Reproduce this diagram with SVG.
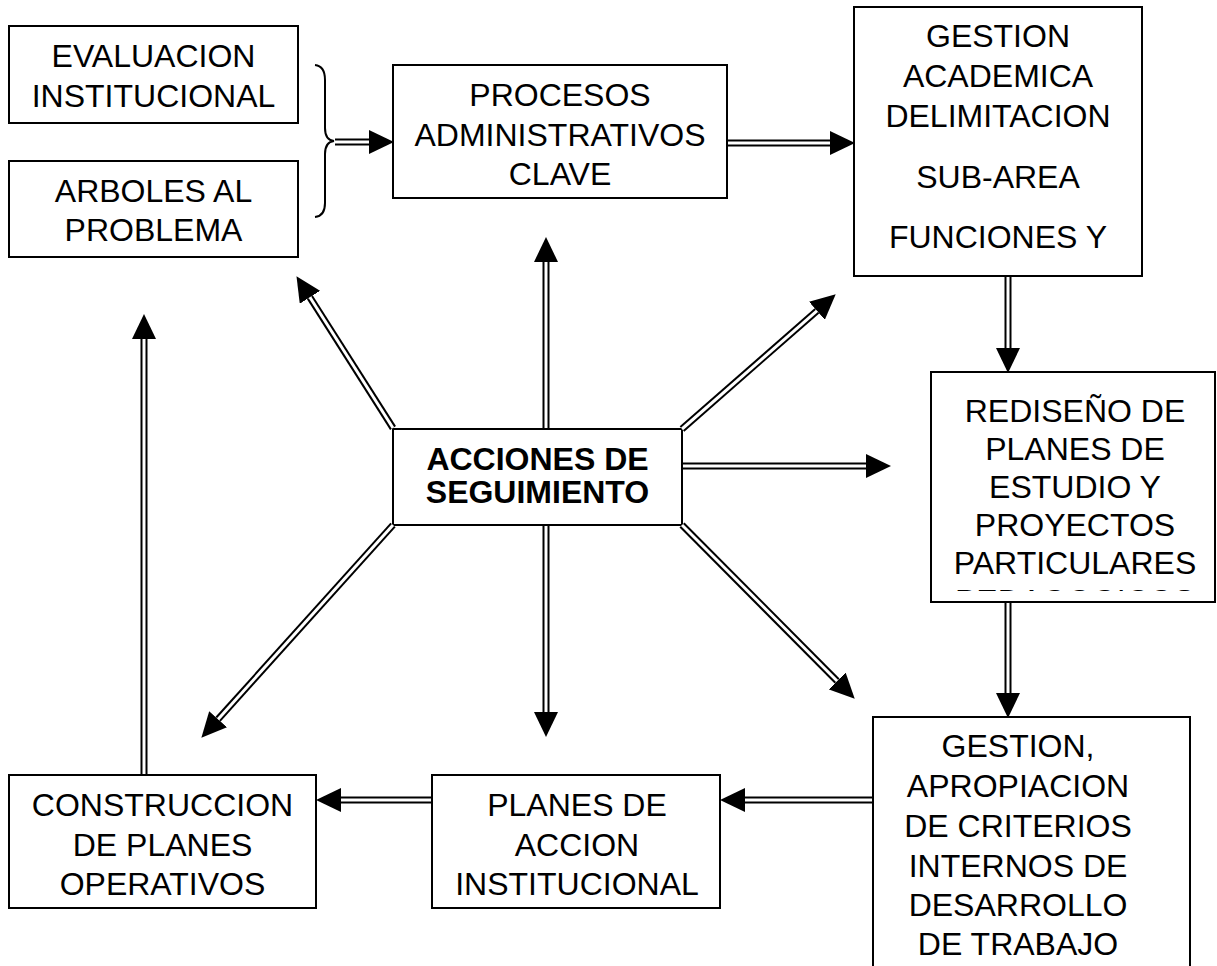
<svg xmlns="http://www.w3.org/2000/svg" width="1217" height="966" viewBox="0 0 1217 966">
<style>
.box{fill:#fff;stroke:#000;stroke-width:2}
.t{font-family:"Liberation Sans",Arial,sans-serif;font-size:32px;fill:#000;text-anchor:middle}
.b{font-weight:bold}
.outer{fill:none;stroke:#000;stroke-width:7;marker-end:url(#ah)}
.inner{fill:none;stroke:#fff;stroke-width:3}
.brace{fill:none;stroke:#000;stroke-width:2}
</style>
<defs>
<marker id="ah" markerUnits="userSpaceOnUse" markerWidth="25" markerHeight="24" refX="0" refY="12" orient="auto" viewBox="0 0 25 24">
<path d="M0,0 L25,12 L0,24 Z" fill="#000"/>
</marker>
<clipPath id="clipGA"><rect x="855" y="8" width="286" height="259"/></clipPath>
<clipPath id="clipRE"><rect x="932" y="373" width="282" height="218"/></clipPath>
</defs>

<g id="evaluacion">
<rect class="box" x="9" y="26" width="289" height="97"/>
<text class="t" x="153.5" y="67">EVALUACION</text>
<text class="t" x="153.5" y="107">INSTITUCIONAL</text>
</g>

<g id="arboles">
<rect class="box" x="9" y="161" width="289" height="96"/>
<text class="t" x="153.5" y="202">ARBOLES AL</text>
<text class="t" x="153.5" y="241">PROBLEMA</text>
</g>

<g id="procesos">
<rect class="box" x="393" y="65" width="334" height="133"/>
<text class="t" x="560" y="106">PROCESOS</text>
<text class="t" x="560" y="146">ADMINISTRATIVOS</text>
<text class="t" x="560" y="185">CLAVE</text>
</g>

<g id="gestion-academica">
<rect class="box" x="854" y="7" width="288" height="269"/>
<g clip-path="url(#clipGA)">
<text class="t" x="998" y="47">GESTION</text>
<text class="t" x="998" y="87">ACADEMICA</text>
<text class="t" x="998" y="127">DELIMITACION</text>
<text class="t" x="998" y="188">SUB-AREA</text>
<text class="t" x="998" y="248">FUNCIONES Y</text>
<text class="t" x="998" y="289">ACCIONES</text>
</g>
</g>

<g id="rediseno">
<rect class="box" x="931" y="372" width="284" height="230"/>
<g clip-path="url(#clipRE)">
<text class="t" x="1075" y="422">REDISEÑO DE</text>
<text class="t" x="1075" y="460">PLANES DE</text>
<text class="t" x="1075" y="498">ESTUDIO Y</text>
<text class="t" x="1075" y="536">PROYECTOS</text>
<text class="t" x="1075" y="574">PARTICULARES</text>
<text class="t" x="1075" y="612">PEDAGOGICOS</text>
</g>
</g>

<g id="acciones">
<rect class="box" x="393" y="429" width="289" height="96"/>
<text class="t b" x="537.5" y="470">ACCIONES DE</text>
<text class="t b" x="537.5" y="503">SEGUIMIENTO</text>
</g>

<g id="gestion-apropiacion">
<rect class="box" x="873" y="717" width="317" height="260"/>
<text class="t" x="1018" y="757">GESTION,</text>
<text class="t" x="1018" y="797">APROPIACION</text>
<text class="t" x="1018" y="837">DE CRITERIOS</text>
<text class="t" x="1018" y="877">INTERNOS DE</text>
<text class="t" x="1018" y="916">DESARROLLO</text>
<text class="t" x="1018" y="955">DE TRABAJO</text>
</g>

<g id="planes-accion">
<rect class="box" x="432" y="775" width="288" height="133"/>
<text class="t" x="577" y="816">PLANES DE</text>
<text class="t" x="577" y="856">ACCION</text>
<text class="t" x="577" y="895">INSTITUCIONAL</text>
</g>

<g id="construccion">
<rect class="box" x="9" y="775" width="307" height="133"/>
<text class="t" x="162.5" y="816">CONSTRUCCION</text>
<text class="t" x="162.5" y="856">DE PLANES</text>
<text class="t" x="162.5" y="895">OPERATIVOS</text>
</g>

<g id="connectors">
<path class="brace" d="M315,65 Q325,66 325,80 L325,128 Q325,140 334,141 Q325,142 325,154 L325,203 Q325,216 315,217"/>
<path class="outer" d="M335,142 L369,142"/><path class="inner" d="M335,142 L369,142"/>
<path class="outer" d="M728,143 L830,143"/><path class="inner" d="M728,143 L830,143"/>
<path class="outer" d="M1008,277 L1008,348"/><path class="inner" d="M1008,277 L1008,348"/>
<path class="outer" d="M1008,603 L1008,693"/><path class="inner" d="M1008,603 L1008,693"/>
<path class="outer" d="M872,800 L745,800"/><path class="inner" d="M872,800 L745,800"/>
<path class="outer" d="M431,800 L341,800"/><path class="inner" d="M431,800 L341,800"/>
<path class="outer" d="M144,774 L144,339"/><path class="inner" d="M144,774 L144,339"/>
<path class="outer" d="M546,428 L546,262"/><path class="inner" d="M546,428 L546,262"/>
<path class="outer" d="M546,526 L546,712"/><path class="inner" d="M546,526 L546,712"/>
<path class="outer" d="M393,428 L309.9,297.3"/><path class="inner" d="M393,428 L309.9,297.3"/>
<path class="outer" d="M682,429 L816.9,310.8"/><path class="inner" d="M682,429 L816.9,310.8"/>
<path class="outer" d="M683,466 L866,466"/><path class="inner" d="M683,466 L866,466"/>
<path class="outer" d="M682,525 L837.1,681"/><path class="inner" d="M682,525 L837.1,681"/>
<path class="outer" d="M393,525 L218.1,719.2"/><path class="inner" d="M393,525 L218.1,719.2"/>
</g>
</svg>
